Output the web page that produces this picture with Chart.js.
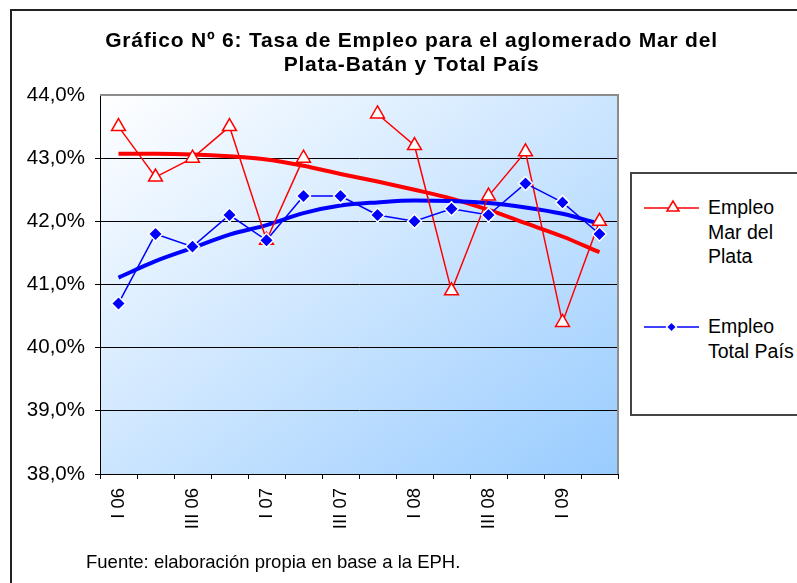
<!DOCTYPE html>
<html>
<head>
<meta charset="utf-8">
<script src="https://cdn.jsdelivr.net/npm/chart.js@4"></script>
<style>
  body { margin: 0; background: #fff; }
  #wrap { position: relative; width: 797px; height: 583px; overflow: hidden; font-family: 'Liberation Sans', Arial, sans-serif; }
  #frame { position: absolute; left: 10px; top: 9px; width: 820px; height: 620px; border: 2px solid #222; }
  #chart { position: absolute; left: 0; top: 0; }
  #title { position: absolute; left: 0; top: 28px; width: 823px; text-align: center; font-weight: bold; font-size: 21px; line-height: 23.5px; letter-spacing: 0.8px; color: #000; }
  #legend { position: absolute; left: 630px; top: 172px; width: 220px; height: 240px; border: 2px solid #444; background: #fff; }
  .item { position: absolute; left: 76px; font-size: 19.5px; line-height: 24.5px; color: #000; }
  #legend svg { position: absolute; left: 0; top: 0; }
  #source { position: absolute; left: 86px; top: 553px; font-size: 18.5px; line-height: 18px; color: #000; }
</style>
</head>
<body>
<div id="wrap">
  <div id="frame"></div>
  <canvas id="chart" width="797" height="583"></canvas>
  <div id="title">Gráfico Nº 6: Tasa de Empleo para el aglomerado Mar del<br>Plata-Batán y Total País</div>
  <div id="legend">
    <svg width="80" height="240">
      <line x1="12" y1="34" x2="67" y2="34" stroke="#ff0000" stroke-width="1.5"/>
      <polygon points="41,27 47,37 35,37" fill="#fff" stroke="#ff0000" stroke-width="1.5"/>
      <line x1="12" y1="153" x2="67" y2="153" stroke="#0000ff" stroke-width="1.5"/>
      <polygon points="39.5,148 44.5,153 39.5,158 34.5,153" fill="#0000ff" stroke="#fff" stroke-width="1.5"/>
    </svg>
    <div class="item" style="top:21px">Empleo<br>Mar del<br>Plata</div>
    <div class="item" style="top:140px">Empleo<br>Total País</div>
  </div>
  <div id="source">Fuente: elaboración propia en base a la EPH.</div>
</div>
<script>
const labels = ['I 06', 'II 06', 'III 06', 'IV 06', 'I 07', 'II 07', 'III 07', 'IV 07',
  'I 08', 'II 08', 'III 08', 'IV 08', 'I 09', 'II 09'];

const mdp = [43.5, 42.7, 43.0, 43.5, 41.7, 43.0, null, 43.7, 43.2, 40.9, 42.4, 43.1, 40.4, 42.0];
const pais = [40.7, 41.8, 41.6, 42.1, 41.7, 42.4, 42.4, 42.1, 42.0, 42.2, 42.1, 42.6, 42.3, 41.8];

// lineas de tendencia
const mdpTrend = [43.07, 43.07, 43.06, 43.03, 42.98, 42.88, 42.75, 42.63, 42.50, 42.36, 42.18, 41.97, 41.76, 41.51];
const paisTrend = [41.11, 41.37, 41.58, 41.79, 41.94, 42.13, 42.25, 42.30, 42.33, 42.32, 42.29, 42.22, 42.12, 41.96];

const yTicks = [38, 39, 40, 41, 42, 43, 44];

const font = "'Liberation Sans', Arial, sans-serif";

const plotBg = {
  id: 'plotBg',
  beforeDraw(chart) {
    const { ctx, chartArea: a } = chart;
    const w = a.right - a.left, h = a.bottom - a.top;
    const k = 2 * w * h / (w * w + h * h);
    const g = ctx.createLinearGradient(a.left, a.top, a.left + k * h, a.top + k * w);
    g.addColorStop(0, '#ffffff');
    g.addColorStop(1, '#99ccff');
    ctx.save();
    ctx.fillStyle = g;
    ctx.fillRect(a.left, a.top, w, h);
    ctx.restore();
  },
  beforeDatasetsDraw(chart) {
    const { ctx, chartArea: a } = chart;
    ctx.save();
    ctx.strokeStyle = '#8c8c8c';
    ctx.lineWidth = 2;
    ctx.beginPath();
    ctx.moveTo(a.left, a.top);
    ctx.lineTo(a.right, a.top);
    ctx.lineTo(a.right, a.bottom);
    ctx.stroke();
    ctx.restore();
  }
};

new Chart(document.getElementById('chart'), {
  type: 'line',
  data: {
    labels,
    datasets: [
      {
        label: 'Empleo Total País',
        data: pais,
        order: 0,
        borderColor: '#0000ff',
        borderWidth: 1.5,
        pointStyle: 'rectRot',
        pointRadius: 7,
        pointBackgroundColor: '#0000ff',
        pointBorderColor: '#ffffff',
        pointBorderWidth: 1.5
      },
      {
        label: 'Empleo Mar del Plata',
        data: mdp,
        order: 1,
        spanGaps: false,
        borderColor: '#ff0000',
        borderWidth: 1.5,
        pointStyle: 'triangle',
        pointRadius: 8,
        pointBackgroundColor: '#ffffff',
        pointBorderColor: '#ff0000',
        pointBorderWidth: 1.5
      },
      {
        label: 'tendencia país',
        data: paisTrend,
        order: 2,
        borderColor: '#0000ff',
        borderWidth: 4,
        pointRadius: 0,
        cubicInterpolationMode: 'monotone'
      },
      {
        label: 'tendencia mdp',
        data: mdpTrend,
        order: 3,
        borderColor: '#ff0000',
        borderWidth: 4,
        pointRadius: 0,
        cubicInterpolationMode: 'monotone'
      }
    ]
  },
  options: {
    responsive: false,
    animation: false,
    layout: { padding: { left: 0, top: 95, right: 179, bottom: 0 } },
    plugins: {
      legend: { display: false },
      title: { display: false },
      tooltip: { enabled: false }
    },
    scales: {
      x: {
        offset: true,
        grid: { offset: true, drawOnChartArea: false, drawTicks: true, tickLength: 5, color: '#000' },
        border: { color: '#000', width: 1 },
        ticks: {
          autoSkip: false,
          maxRotation: 90,
          minRotation: 90,
          padding: 9,
          color: '#000',
          font: { family: font, size: 18.5 },
          callback: (v, i) => (i % 2 === 0 ? labels[i] : '')
        },
        afterFit: s => { s.height = 109; }
      },
      y: {
        min: yTicks[0],
        max: yTicks[yTicks.length - 1],
        afterBuildTicks: s => { s.ticks = yTicks.map(v => ({ value: v })); },
        grid: {
          tickLength: 5,
          color: c => (c.tick && c.tick.value === 44 ? 'rgba(0,0,0,0)' : '#000')
        },
        border: { color: '#000', width: 1 },
        ticks: {
          padding: 10,
          color: '#000',
          font: { family: font, size: 20.5 },
          callback: v => v.toFixed(1).replace('.', ',') + '%'
        },
        afterFit: s => { s.width = 100; }
      }
    }
  },
  plugins: [plotBg]
});
</script>
</body>
</html>
